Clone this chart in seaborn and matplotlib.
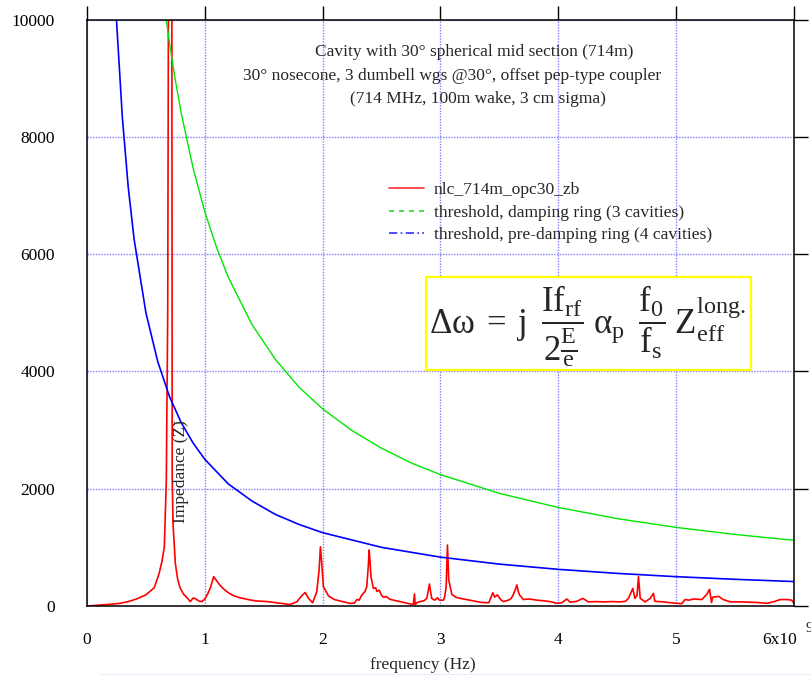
import numpy as np
import pandas as pd
import matplotlib
matplotlib.use("Agg")
import matplotlib.pyplot as plt
import matplotlib.transforms as mtransforms
import seaborn as sns
from matplotlib.lines import Line2D
from matplotlib.patches import Rectangle

# ---------------- data ----------------
freq_ghz = [0.0, 0.1, 0.2, 0.28, 0.35, 0.42, 0.5, 0.57, 0.61, 0.635, 0.656, 0.673,
            0.685, 0.692, 0.705, 0.715, 0.72, 0.723, 0.73, 0.75, 0.77, 0.79, 0.82,
            0.85, 0.877, 0.9, 0.915, 0.93, 0.955, 0.976, 1.0, 1.025, 1.047, 1.075,
            1.10, 1.13, 1.16, 1.2, 1.245, 1.3, 1.38, 1.44, 1.5, 1.553, 1.65, 1.723,
            1.78, 1.82, 1.851, 1.88, 1.915, 1.95, 1.97, 1.981, 1.992, 2.006, 2.05,
            2.1, 2.148, 2.233, 2.27, 2.29, 2.31, 2.33, 2.36, 2.374, 2.388, 2.394,
            2.40, 2.41, 2.43, 2.45, 2.46, 2.48, 2.50, 2.515, 2.54, 2.57, 2.62, 2.657,
            2.70, 2.742, 2.77, 2.779, 2.785, 2.80, 2.827, 2.86, 2.884, 2.906, 2.925,
            2.95, 2.975, 2.99, 3.025, 3.035, 3.048, 3.059, 3.07, 3.096, 3.13, 3.166,
            3.22, 3.308, 3.35, 3.41, 3.444, 3.46, 3.483, 3.51, 3.534, 3.577, 3.60,
            3.619, 3.635, 3.648, 3.66, 3.67, 3.704, 3.75, 3.817, 3.87, 3.93, 3.987,
            4.03, 4.072, 4.1, 4.157, 4.208, 4.255, 4.32, 4.383, 4.45, 4.525, 4.57,
            4.595, 4.632, 4.65, 4.668, 4.68, 4.695, 4.737, 4.78, 4.807, 4.82, 4.892,
            4.977, 5.048, 5.076, 5.11, 5.147, 5.218, 5.26, 5.283, 5.30, 5.31, 5.36,
            5.40, 5.46, 5.543, 5.62, 5.685, 5.77, 5.84, 5.883, 5.94, 5.98, 6.0]
impedance = [0, 15, 30, 45, 75, 120, 190, 310, 540, 750, 1000, 2130,
             5000, 11000, 16000, 16000, 11000, 2200, 1400, 720, 450, 310, 200,
             140, 75, 135, 130, 110, 80, 75, 120, 210, 310, 500,
             430, 350, 290, 225, 175, 140, 105, 85, 80, 70, 45, 25,
             70, 170, 230, 130, 55, 245, 615, 1010, 735, 330, 170,
             110, 85, 45, 50, 110, 100, 180, 250, 330, 700, 955,
             820, 500, 300, 310, 250, 270, 180, 150, 160, 115, 90, 75,
             55, 35, 30, 205, 20, 60, 75, 90, 130, 375, 130,
             100, 140, 100, 100, 150, 330, 1040, 445, 200, 150, 130,
             110, 75, 60, 55, 225, 150, 190, 110, 75, 100, 130,
             200, 280, 360, 250, 190, 110, 120, 100, 90, 75, 45,
             55, 120, 65, 80, 130, 70, 75, 70, 75, 70, 80,
             130, 300, 130, 180, 500, 130, 70, 130, 215, 80, 70,
             50, 40, 110, 100, 120, 110, 200, 285, 60, 150, 165,
             110, 70, 70, 65, 60, 45, 80, 110, 110, 100, 45]

dr_freq = [0.672, 0.7, 0.75, 0.8, 0.9, 1.0, 1.1, 1.2, 1.4, 1.6, 1.8, 2.0, 2.25,
           2.5, 2.75, 3.0, 3.5, 4.0, 4.5, 5.0, 5.5, 6.0]
dr_thresh = [10000, 9600, 8960, 8400, 7470, 6720, 6110, 5600, 4800, 4200, 3730,
             3360, 2990, 2690, 2440, 2240, 1920, 1680, 1490, 1340, 1220, 1120]

pdr_freq = [0.25, 0.3, 0.35, 0.4, 0.5, 0.6, 0.7, 0.8, 0.9, 1.0, 1.2, 1.4, 1.6,
            1.8, 2.0, 2.5, 3.0, 3.5, 4.0, 4.5, 5.0, 5.5, 6.0]
pdr_thresh = [10000, 8330, 7140, 6250, 5000, 4170, 3570, 3125, 2780, 2500, 2080,
              1790, 1560, 1390, 1250, 1000, 833, 714, 625, 556, 500, 455, 417]

x_ticks = [0, 1, 2, 3, 4, 5, 6]
x_tick_labels = ["0", "1", "2", "3", "4", "5", "6x10"]
y_ticks = [0, 2000, 4000, 6000, 8000, 10000]
y_tick_labels = ["0", "2000", "4000", "6000", "8000", "10000"]
legend_labels = ["nlc_714m_opc30_zb",
                 "threshold, damping ring (3 cavities)",
                 "threshold, pre-damping ring (4 cavities)"]
title_lines = ["Cavity with 30\u00b0 spherical mid section (714m)",
               "30\u00b0 nosecone, 3 dumbell wgs @30\u00b0, offset pep-type coupler",
               "(714 MHz, 100m wake, 3 cm sigma)"]

# ---------------- style ----------------
sns.set_theme(style="white")
plt.rcParams['font.family'] = ['Liberation Serif', 'DejaVu Serif']
plt.rcParams['mathtext.fontset'] = 'custom'
plt.rcParams['mathtext.rm'] = 'Liberation Serif'
plt.rcParams['mathtext.it'] = 'Liberation Serif:italic'
plt.rcParams['mathtext.bf'] = 'Liberation Serif:bold'

W, H = 812, 675
fig = plt.figure(figsize=(W / 100, H / 100), dpi=100)
fig.patch.set_facecolor('white')


def fx(px):
    return px / W


def fy(py):
    return 1 - py / H


ax = fig.add_axes([fx(87), fy(606), fx(794) - fx(87), fy(19.5) - fy(606)])
ax.set_facecolor('white')

df_z = pd.DataFrame({'f': freq_ghz, 'Z': impedance})
df_dr = pd.DataFrame({'f': dr_freq, 'Z': dr_thresh})
df_pdr = pd.DataFrame({'f': pdr_freq, 'Z': pdr_thresh})

sns.lineplot(data=df_z, x='f', y='Z', color='#ff0000', lw=1.2, sort=False,
             estimator=None, ax=ax, zorder=3)
sns.lineplot(data=df_dr, x='f', y='Z', color='#00e600', lw=1.0, sort=False,
             estimator=None, ax=ax, zorder=3)
sns.lineplot(data=df_pdr, x='f', y='Z', color='#0000ff', lw=1.2, sort=False,
             estimator=None, ax=ax, zorder=3)

ax.set_xlim(0, 6)
ax.set_ylim(0, 10000)
ax.set_xticks(x_ticks)
ax.set_xticklabels(x_tick_labels)
ax.set_yticks(y_ticks)
ax.set_yticklabels(y_tick_labels)
ax.set_xlabel('')
ax.set_ylabel('')

ax.grid(True, color='#8080ff', lw=1.0, ls=(0, (1, 1)), zorder=1)
ax.set_axisbelow(True)
for s in ax.spines.values():
    s.set_visible(True)
    s.set_color('black')
    s.set_linewidth(1.1)
    s.set_zorder(4)

ax.tick_params(axis='both', which='major', direction='out', length=10, width=1.0,
               colors='black', top=True, right=True, labeltop=False,
               labelright=False, labelsize=12.5)
ax.tick_params(axis='x', pad=9)
ax.tick_params(axis='y', pad=13)

# last x tick label ("6x10") sits to the left of its tick, as in the reference
last_lbl = ax.get_xticklabels()[-1]
last_lbl.set_horizontalalignment('right')
last_lbl.set_transform(last_lbl.get_transform() +
                       mtransforms.ScaledTranslation(3 / 100, 0, fig.dpi_scale_trans))

# legend (proxy handles with the reference's legend styles)
handles = [Line2D([], [], color='#ff3030', lw=1.2),
           Line2D([], [], color='#20e020', lw=1.2, ls=(0, (3, 3))),
           Line2D([], [], color='#3030ff', lw=1.2, ls=(0, (5, 2, 1, 2)))]
fig.legend(handles, legend_labels, loc='upper left',
           bbox_to_anchor=(fx(389), fy(182)), bbox_transform=fig.transFigure,
           frameon=False, fontsize=12.6, handlelength=2.0, handletextpad=0.55,
           labelspacing=0.36, borderpad=0, borderaxespad=0)

# title block
title_cx = [474, 452, 478]
for i, t in enumerate(title_lines):
    fig.text(fx(title_cx[i]), fy(52 + 23.5 * i), t, ha='center', va='center',
             fontsize=12.5)

# formula box
fig.add_artist(Rectangle((fx(426), fy(370)), fx(751) - fx(426), fy(277) - fy(370),
                         transform=fig.transFigure, facecolor='white',
                         edgecolor='#ffff00', lw=1.6, zorder=5))
formula = (r'$\mathrm{\Delta\omega\;=\;j\;\;\dfrac{If_{rf}}{2\frac{E}{e}}\;\alpha_{p}\;\;'
           r'\dfrac{f_{0}}{f_{s}}\;Z_{eff}^{long.}}$')
fig.text(fx(588), fy(326), formula, ha='center', va='center', fontsize=25, zorder=6)

# axis labels
fig.text(fx(181), fy(472), 'Impedance (Z\u0303)', rotation=90, ha='center',
         va='center', fontsize=12.5)
fig.text(fx(423), fy(665), 'frequency (Hz)', ha='center', va='center', fontsize=12.5)
fig.text(fx(806), fy(628), '9', ha='left', va='center', fontsize=11)

# thin light-blue rule at the very bottom
fig.add_artist(Line2D([fx(100), 1.0], [fy(674.5), fy(674.5)], color='#80a8ff',
                      lw=1.0, transform=fig.transFigure))

fig.savefig('out.png', dpi=100)
